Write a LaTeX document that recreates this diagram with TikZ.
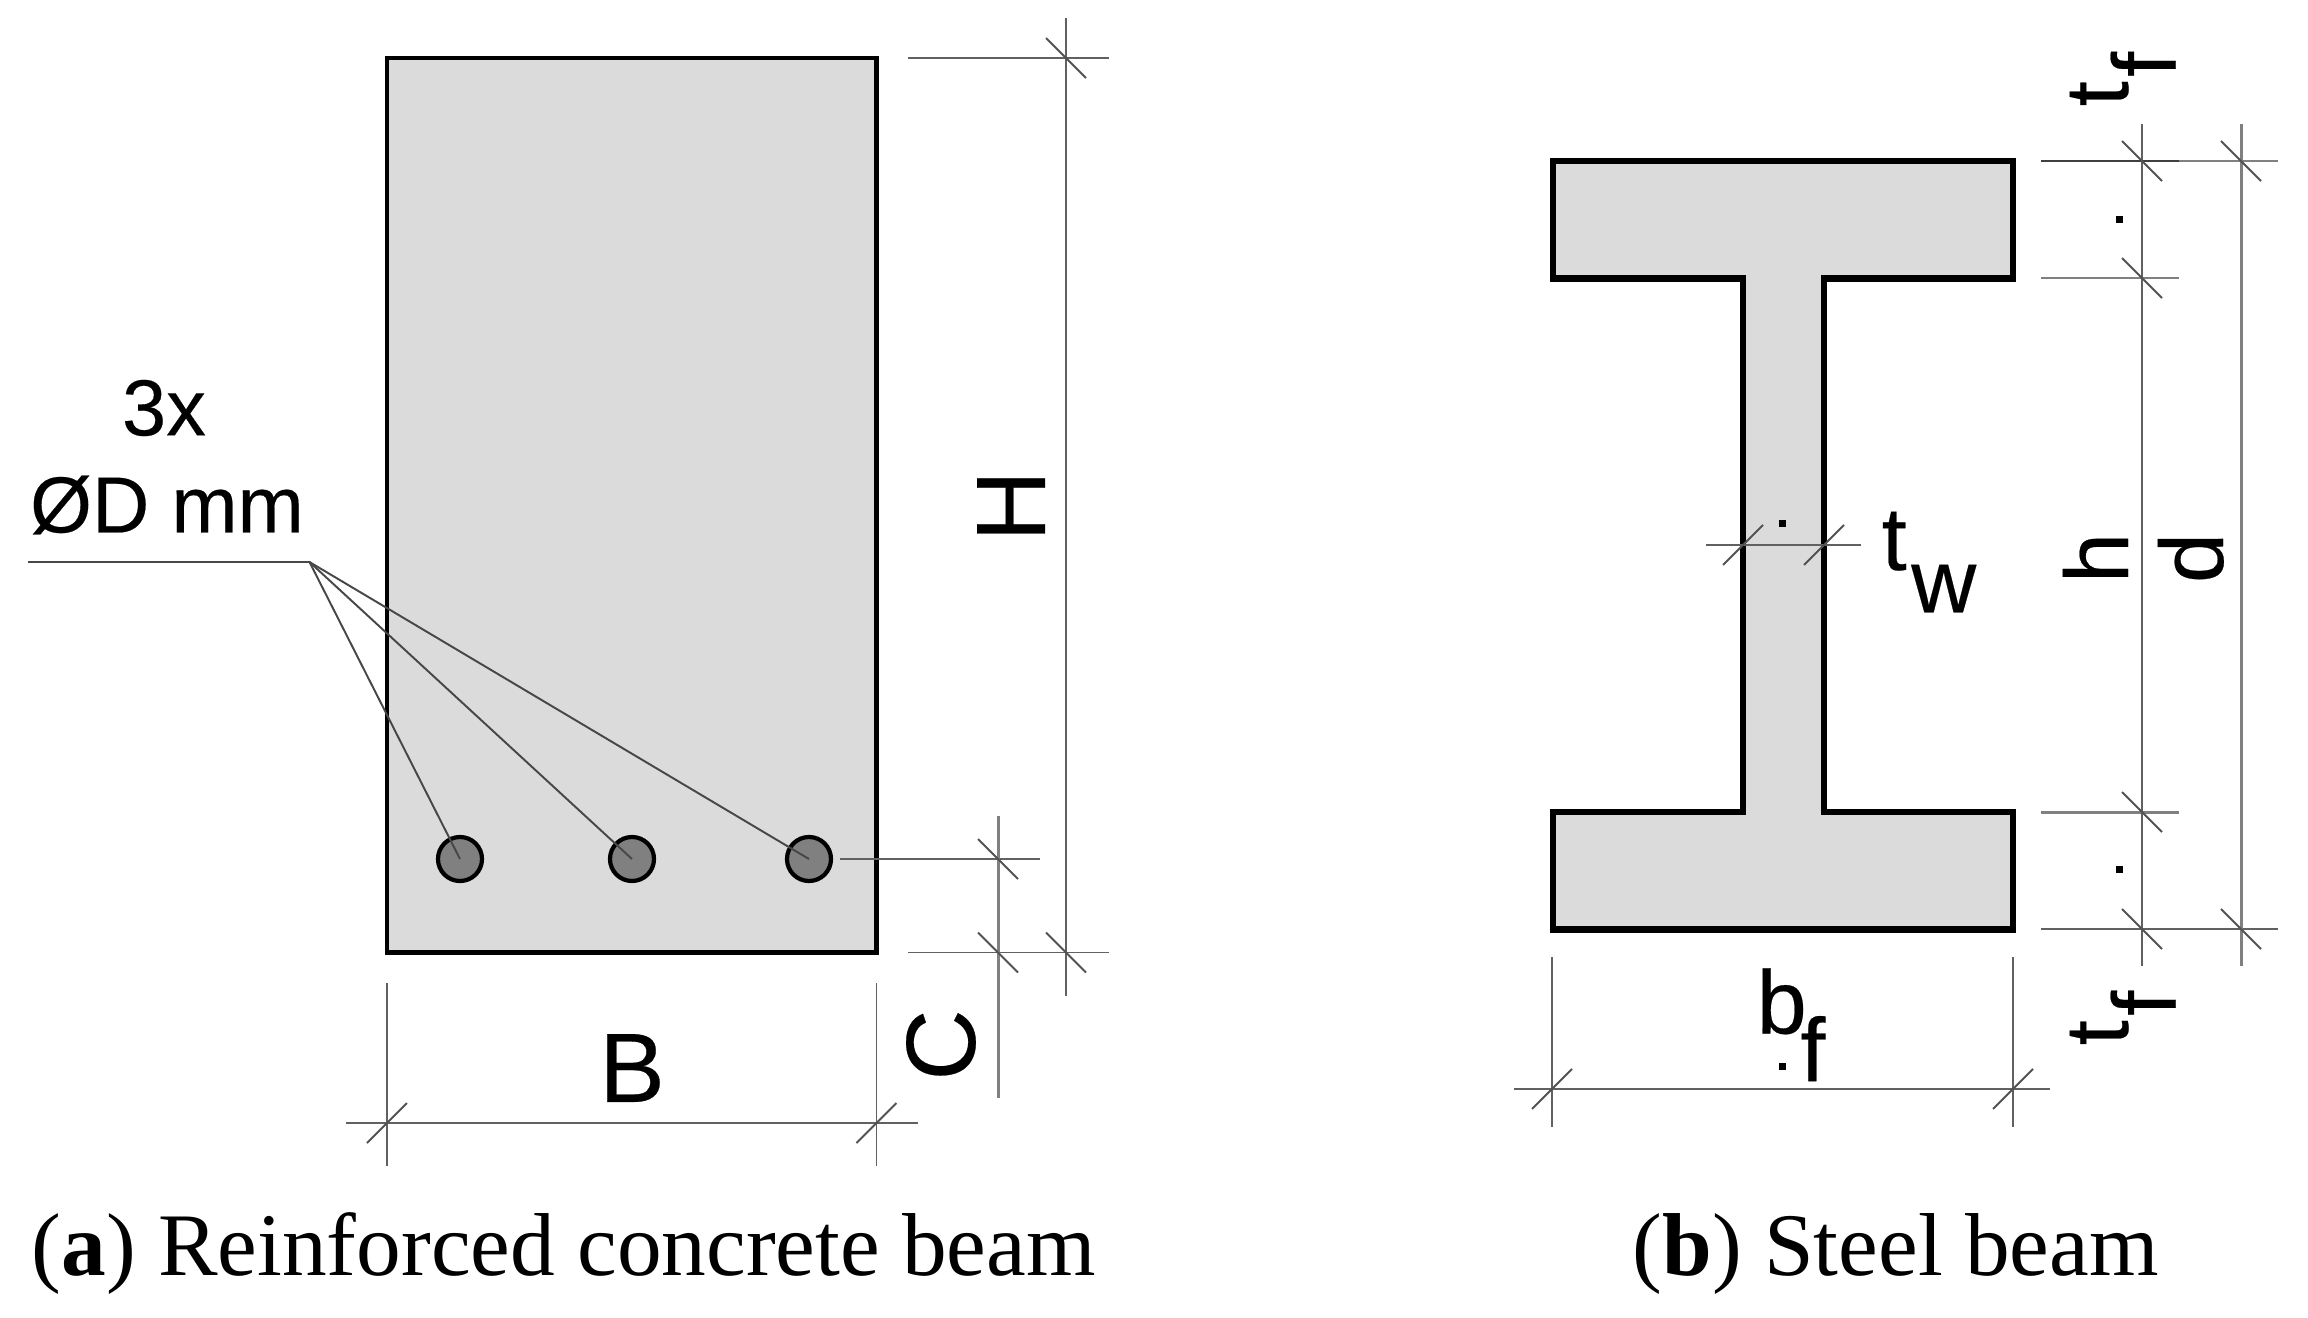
\documentclass[tikz,border=0pt]{standalone}
\usepackage{fontspec}
\setmainfont{Liberation Sans}
\newfontfamily\capfont{Liberation Serif}
\newfontfamily\heavyfont[FakeBold=0.25]{Liberation Sans}
\newcommand{\tickdown}[1]{\draw[tickline] (#1) ++(-20,-20) -- ++(40,40);}
\newcommand{\tickup}[1]{\draw[tickline] (#1) ++(-20,20) -- ++(40,-40);}
\newcommand{\low}[2]{\kern.05em\raisebox{-#1}{#2}}

\begin{document}
\begin{tikzpicture}[x=0.01cm,y=-0.01cm]
    \tikzstyle{beam}=[draw=black,fill=black!14,line join=miter]
    \tikzstyle{dimline}=[draw=black!62,line width=0.55pt]
    \tikzstyle{dimwide}=[draw=black!50,line width=0.85pt]
    \tikzstyle{tickline}=[draw=black!68,line width=0.55pt]
    \tikzstyle{leader}=[draw=black!72,line width=0.55pt]
    \tikzstyle{bar}=[circle,draw=black,fill=black!50,line width=1.2pt,minimum size=0.44cm,inner sep=0pt]
    \tikzstyle{small}=[inner sep=0pt,font=\heavyfont\fontsize{22.6}{27}\selectfont]
    \tikzstyle{big}=[inner sep=0pt,font=\heavyfont\fontsize{28}{34}\selectfont]
    \tikzstyle{mid}=[inner sep=0pt,font=\heavyfont\fontsize{25.6}{31}\selectfont]
    \tikzstyle{caption}=[inner sep=0pt,anchor=base west,font=\capfont\fontsize{25.4}{30}\selectfont]
    \useasboundingbox (0,0) rectangle (2308,1318);

    % concrete section
    \draw[beam,line width=1.3pt] (387,58) rectangle (876.5,952.5);
    \node[bar] (bar1) at (460,859) {};
    \node[bar] (bar2) at (632,859) {};
    \node[bar] (bar3) at (809,859) {};
    \coordinate (kink) at (309.5,562);
    \coordinate (kinkend) at (28,562);
    \draw[leader] (kinkend) -- (kink);
    \draw[leader] (kink) -- (bar1.center);
    \draw[leader] (kink) -- (bar2.center);
    \draw[leader] (kink) -- (bar3.center);
    \node[small] (count) at (164,408) {3x};
    \node[small] (diam) at (167,505) {ØD mm};

    % dimensions of the concrete section
    \coordinate (Htop) at (1066,58);
    \coordinate (Hbot) at (1066,952.5);
    \coordinate (Cbar) at (998,859);
    \coordinate (Cbot) at (998,952.5);
    \coordinate (Bleft) at (387,1123);
    \coordinate (Bright) at (876.5,1123);
    \draw[dimline] (908,58) -- (1109,58);
    \draw[dimline] (908,952.5) -- (1109,952.5);
    \draw[dimline] (840,859) -- (1040,859);
    \draw[dimline] (1066,18) -- (1066,996);
    \draw[dimwide] (998,816) -- (998,1098);
    \draw[dimline] (346,1123) -- (918,1123);
    \draw[dimline] (387,983) -- (387,1166);
    \draw[dimline] (876.5,983) -- (876.5,1166);
    \tickdown{Htop}
    \tickdown{Hbot}
    \tickdown{Cbar}
    \tickdown{Cbot}
    \tickup{Bleft}
    \tickup{Bright}
    \node[big,rotate=90] (H) at (1011,506) {H};
    \node[big,rotate=90] (C) at (941,1045) {C};
    \node[big] (B) at (632,1068) {B};

    % steel section
    \draw[beam,line width=1.9pt] (1553,161) -- (2013,161) -- (2013,278.5) -- (1824,278.5) -- (1824,812)
        -- (2013,812) -- (2013,929.5) -- (1553,929.5) -- (1553,812) -- (1743,812) -- (1743,278.5)
        -- (1553,278.5) -- cycle;

    % dimensions of the steel section
    \coordinate (htop) at (2142,161);
    \coordinate (hup) at (2142,278);
    \coordinate (hlow) at (2142,812);
    \coordinate (hbot) at (2142,929);
    \coordinate (dtop) at (2241,161);
    \coordinate (dbot) at (2241,929);
    \coordinate (twl) at (1743,545);
    \coordinate (twr) at (1824,545);
    \coordinate (bfl) at (1552,1089);
    \coordinate (bfr) at (2013,1089);
    \draw[dimwide] (2179,161) -- (2278,161);
    \draw[draw=black!75,line width=0.7pt] (2041,161) -- (2179,161);
    \draw[dimwide] (2041,278) -- (2179,278);
    \draw[dimwide] (2041,812) -- (2179,812);
    \draw[dimline] (2041,929) -- (2278,929);
    \draw[dimline] (2142,124) -- (2142,966);
    \draw[dimwide] (2241,124) -- (2241,966);
    \draw[dimline] (1706,545) -- (1861,545);
    \draw[dimline] (1514,1089) -- (2050,1089);
    \draw[dimline] (1552,957) -- (1552,1127);
    \draw[dimline] (2013,957) -- (2013,1127);
    \tickdown{htop}
    \tickdown{hup}
    \tickdown{hlow}
    \tickdown{hbot}
    \tickdown{dtop}
    \tickdown{dbot}
    \tickup{twl}
    \tickup{twr}
    \tickup{bfl}
    \tickup{bfr}
    \node[mid,rotate=90,anchor=base west] (tftop) at (2128,107) {t\low{.53em}{f}};
    \node[mid,rotate=90,anchor=base west] (tfbot) at (2128,1046) {t\low{.53em}{f}};
    \node[mid,rotate=90,anchor=base] (h) at (2128,558) {h};
    \node[mid,rotate=90,anchor=base] (d) at (2223,558) {d};
    \node[mid,anchor=base west] (tw) at (1881,570) {t\low{.47em}{w}};
    \node[mid,anchor=base west] (bf) at (1756,1033.5) {b\kern-.12em\low{.53em}{f}};

    % stray dots
    \fill (2116,216) rectangle (2122.5,222.5);
    \fill (2116,866) rectangle (2122.5,872.5);
    \fill (1779,520) rectangle (1785.5,526.5);
    \fill (1779,1063) rectangle (1785.5,1069.5);

    % captions
    \node[caption] (capa) at (31,1275) {(\textbf{a}) Reinforced concrete beam};
    \node[caption] (capb) at (1632,1275) {(\textbf{b}) Steel beam};
\end{tikzpicture}
\end{document}
